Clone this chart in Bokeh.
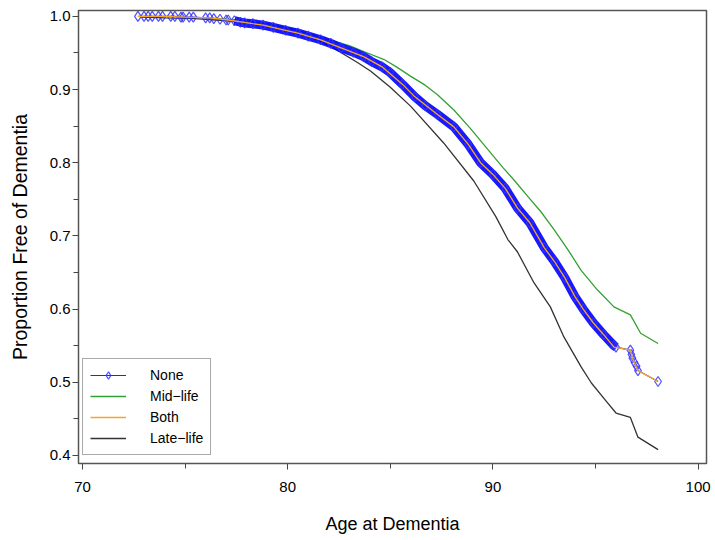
from bokeh.plotting import figure
from bokeh.models import Range1d, Legend, LegendItem, FixedTicker, PrintfTickFormatter
from bokeh.embed import file_html
from bokeh.resources import INLINE

# ---- data (age, proportion free of dementia) ----
none_age = [72.7, 73.0, 73.2, 73.4, 73.7, 73.9, 74.3, 74.5, 74.8, 74.9, 75.2, 75.4, 76.0,
            76.2, 76.4, 76.7, 77.0, 77.1, 77.4, 77.7, 77.9, 78.3, 78.8, 79.3, 79.9, 80.5,
            81.0, 81.6, 82.1, 82.6, 83.2, 83.7, 84.1, 84.6, 85.0, 85.6, 86.2, 86.7, 87.3,
            88.1, 88.8, 89.4, 90.0, 90.6, 91.2, 91.8, 92.5, 93.0, 93.5, 94.0, 94.4, 94.9,
            95.4, 95.9, 96.0, 96.7, 96.75, 96.8, 96.9, 97.0, 97.07, 98.05]
none_surv = [1.000, 1.000, 1.000, 1.000, 1.000, 1.000, 1.000, 1.000, 0.999, 0.999, 0.999,
             0.999, 0.998, 0.998, 0.997, 0.996, 0.995, 0.995, 0.994, 0.992, 0.991, 0.990,
             0.988, 0.985, 0.981, 0.977, 0.973, 0.968, 0.963, 0.957, 0.951, 0.945, 0.938,
             0.931, 0.923, 0.907, 0.890, 0.878, 0.866, 0.849, 0.825, 0.800, 0.784, 0.765,
             0.738, 0.718, 0.684, 0.665, 0.643, 0.617, 0.600, 0.581, 0.565, 0.550, 0.548,
             0.544, 0.538, 0.533, 0.527, 0.522, 0.516, 0.501]

mid_age = [76.1, 77.5, 79.0, 80.5, 82.0, 83.0, 83.7, 84.7, 85.3, 86.0, 86.7, 87.3, 88.1,
           88.9, 89.7, 90.5, 91.1, 91.7, 92.34, 93.0, 93.66, 94.3, 95.1, 95.9, 96.7, 97.2,
           98.05]
mid_surv = [0.998, 0.995, 0.990, 0.981, 0.968, 0.960, 0.952, 0.941, 0.931, 0.918, 0.906,
            0.893, 0.872, 0.847, 0.820, 0.793, 0.774, 0.754, 0.733, 0.708, 0.681, 0.653,
            0.626, 0.603, 0.592, 0.567, 0.553]

both_age = [72.7, 74.0, 75.0, 76.2, 77.1, 78.3, 78.8, 79.9, 80.5, 81.6, 82.6, 83.7, 84.6,
            85.6, 86.2, 87.3, 88.1, 88.8, 89.4, 90.0, 90.6, 91.2, 91.8, 92.5, 93.0, 93.5,
            94.0, 94.4, 94.9, 95.4, 95.9, 96.7, 96.8, 97.07, 98.05]
both_surv = [1.000, 1.000, 0.999, 0.998, 0.995, 0.990, 0.988, 0.981, 0.977, 0.968, 0.957,
             0.945, 0.931, 0.907, 0.890, 0.866, 0.849, 0.825, 0.800, 0.784, 0.765, 0.738,
             0.718, 0.684, 0.665, 0.643, 0.617, 0.600, 0.581, 0.565, 0.548, 0.544, 0.533,
             0.516, 0.501]

late_age = [72.9, 74.0, 75.5, 77.0, 78.5, 79.5, 80.3, 81.1, 82.1, 83.4, 84.05, 85.0, 86.0,
            87.6, 89.07, 90.15, 90.73, 91.2, 92.0, 92.8, 93.46, 94.3, 94.8, 95.5, 96.0,
            96.7, 97.07, 98.05]
late_surv = [0.999, 0.998, 0.997, 0.994, 0.989, 0.984, 0.978, 0.972, 0.959, 0.937, 0.925,
             0.903, 0.877, 0.827, 0.775, 0.726, 0.695, 0.678, 0.636, 0.603, 0.562, 0.521,
             0.499, 0.475, 0.458, 0.452, 0.425, 0.408]

x_ticks = [70, 80, 90, 100]
x_minor = [75, 85, 95]
y_ticks = [0.4, 0.5, 0.6, 0.7, 0.8, 0.9, 1.0]
y_minor = [0.45, 0.55, 0.65, 0.75, 0.85, 0.95]

FONT = "Liberation Sans"

p = figure(width=715, height=540, output_backend="svg", toolbar_location=None,
           x_range=Range1d(69.805, 100.41), y_range=Range1d(0.389, 1.008),
           min_border_left=78, min_border_right=9, min_border_top=10, min_border_bottom=77,
           x_axis_label="Age at Dementia", y_axis_label="Proportion Free of Dementia")
p.grid.visible = False
p.outline_line_color = "#555555"
p.outline_line_width = 1.5
p.background_fill_color = "white"
p.border_fill_color = "white"

p.xaxis.ticker = FixedTicker(ticks=x_ticks, minor_ticks=x_minor)
p.yaxis.ticker = FixedTicker(ticks=y_ticks, minor_ticks=y_minor)
p.yaxis.formatter = PrintfTickFormatter(format="%.1f")
p.xaxis.formatter = PrintfTickFormatter(format="%d")

for ax in p.axis:
    ax.axis_line_color = None
    ax.major_tick_line_color = "#444444"
    ax.minor_tick_line_color = "#444444"
    ax.major_tick_in = 0
    ax.minor_tick_in = 0
    ax.major_tick_out = 6
    ax.minor_tick_out = 5
    ax.major_label_text_font = FONT
    ax.major_label_text_font_size = "15px"
    ax.major_label_text_color = "black"
    ax.axis_label_text_font = FONT
    ax.axis_label_text_font_style = "normal"
    ax.axis_label_text_color = "black"

p.xaxis.axis_label_text_font_size = "18px"
p.yaxis.axis_label_text_font_size = "19.5px"
p.xaxis.major_label_standoff = 12
p.xaxis.axis_label_standoff = 19
p.yaxis.major_label_standoff = 2
p.yaxis.axis_label_standoff = 16

# Late-life (black) and Mid-life (green)
r_late = p.line(late_age, late_surv, line_color="#333333", line_width=1.3)
r_mid = p.line(mid_age, mid_surv, line_color="#33a033", line_width=1.3)

# None: dense markers forming a blue band
band_age = [a for a in none_age if 77.4 <= a <= 96.0]
band_surv = [s for a, s in zip(none_age, none_surv) if 77.4 <= a <= 96.0]
p.line(band_age, band_surv, line_color="#0000ff", line_width=9, line_alpha=0.9)
r_none_line = p.line(none_age, none_surv, line_color="#2222ff", line_width=1.2)
r_none_pts = p.scatter(none_age, none_surv, marker="diamond", size=10,
                       line_color="#3333ff", line_width=1.2, fill_color="white",
                       fill_alpha=0.0, line_alpha=0.85)

# Both (orange) on top
r_both = p.line(both_age, both_surv, line_color="#f5a623", line_width=1.3)

legend = Legend(items=[
    LegendItem(label="None", renderers=[r_none_line, r_none_pts]),
    LegendItem(label="Mid\u2212life", renderers=[r_mid]),
    LegendItem(label="Both", renderers=[r_both]),
    LegendItem(label="Late\u2212life", renderers=[r_late]),
], location=(4, 8))
legend.border_line_color = "#555555"
legend.border_line_width = 1.2
legend.background_fill_color = "white"
legend.background_fill_alpha = 1.0
legend.label_text_font = FONT
legend.label_text_font_size = "14px"
legend.label_text_color = "black"
legend.glyph_width = 36
legend.glyph_height = 18
legend.label_height = 18
legend.spacing = 3
legend.padding = 7
legend.margin = 0
legend.label_standoff = 24
p.add_layout(legend)

open("out.html", "w").write(file_html(p, INLINE))
